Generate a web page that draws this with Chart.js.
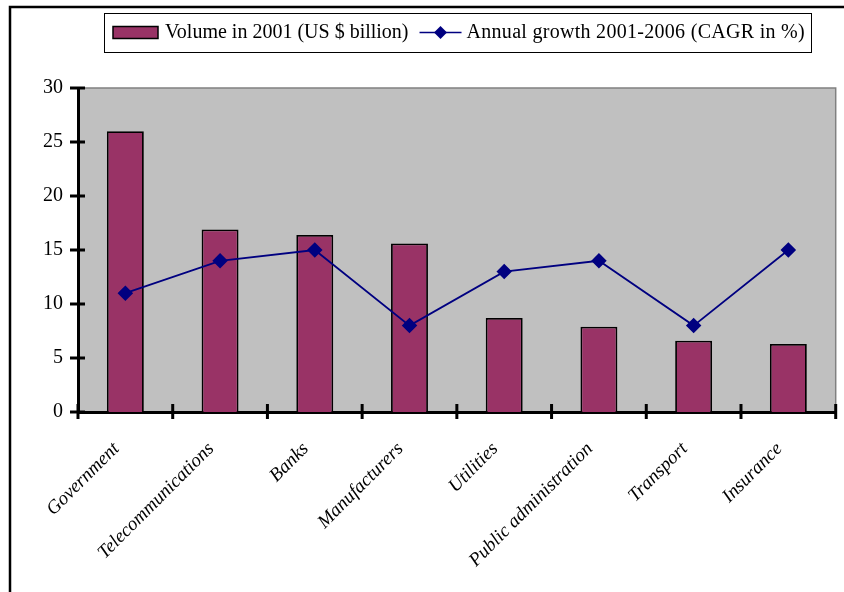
<!DOCTYPE html>
<html>
<head>
  <script src="https://cdn.jsdelivr.net/npm/chart.js"></script>
  <style>
    body { margin: 0; background: #fff; }
  </style>
</head>
<body>
  <canvas id="chartCanvas" width="844" height="592"></canvas>

  <script>
    // chart data
    var categories = ['Government', 'Telecommunications', 'Banks', 'Manufacturers',
      'Utilities', 'Public administration', 'Transport', 'Insurance'];
    var volume2001 = [26.0, 16.9, 16.4, 15.6, 8.7, 7.9, 6.6, 6.3];
    var growthCagr = [11, 14, 15, 8, 13, 14, 8, 15];
    var yTicks = [0, 5, 10, 15, 20, 25, 30];

    var serif = "'Liberation Serif', 'DejaVu Serif', serif";

    // gray plot background + thin gray border on top/right
    var plotBackground = {
      id: 'plotBackground',
      beforeDraw: function(chart) {
        var ctx = chart.ctx, a = chart.chartArea;
        ctx.save();
        ctx.fillStyle = '#c0c0c0';
        ctx.fillRect(a.left, a.top, a.right - a.left, a.bottom - a.top);
        ctx.strokeStyle = '#808080';
        ctx.lineWidth = 1.5;
        ctx.beginPath();
        ctx.moveTo(a.left, a.top);
        ctx.lineTo(a.right, a.top);
        ctx.lineTo(a.right, a.bottom);
        ctx.stroke();
        ctx.restore();
      }
    };

    // text drawn to a given width (the original font runs wider)
    function fitText(ctx, text, x, y, width) {
      var w = ctx.measureText(text).width;
      ctx.letterSpacing = ((width - w) / text.length).toFixed(2) + 'px';
      ctx.fillText(text, x, y);
      ctx.letterSpacing = '0px';
    }

    // tick marks crossing the axes, outer frame and legend box
    var decorations = {
      id: 'decorations',
      afterDraw: function(chart) {
        var ctx = chart.ctx, a = chart.chartArea;
        var xs = chart.scales.x, ys = chart.scales.y;
        ctx.save();
        ctx.strokeStyle = '#000';
        ctx.lineWidth = 3;
        ys.ticks.forEach(function(t, i) {
          var y = ys.getPixelForTick(i);
          ctx.beginPath();
          ctx.moveTo(a.left - 8, y);
          ctx.lineTo(a.left + 7, y);
          ctx.stroke();
        });
        var half = (xs.getPixelForValue(1) - xs.getPixelForValue(0)) / 2;
        for (var i = 0; i <= categories.length; i++) {
          var x = xs.getPixelForValue(i) - half;
          ctx.beginPath();
          ctx.moveTo(x, a.bottom - 8);
          ctx.lineTo(x, a.bottom + 7);
          ctx.stroke();
        }

        // outer frame
        ctx.lineWidth = 2.5;
        ctx.beginPath();
        ctx.moveTo(10, 592);
        ctx.lineTo(10, 7);
        ctx.lineTo(844, 7);
        ctx.stroke();

        // legend
        var bar = chart.data.datasets[0], line = chart.data.datasets[1];
        var cy = 32.5;
        ctx.lineWidth = 1;
        ctx.strokeStyle = '#000';
        ctx.strokeRect(104.5, 13.5, 707, 39);
        ctx.fillStyle = bar.backgroundColor;
        ctx.fillRect(113, cy - 6, 45, 12);
        ctx.lineWidth = 1.5;
        ctx.strokeRect(113, cy - 6, 45, 12);
        ctx.fillStyle = '#000';
        ctx.textBaseline = 'middle';
        ctx.font = '20px ' + serif;
        ctx.fillText(bar.label, 165, cy);
        var lx = 165 + ctx.measureText(bar.label).width + 11;
        ctx.strokeStyle = line.borderColor;
        ctx.lineWidth = 1.5;
        ctx.beginPath();
        ctx.moveTo(lx, cy);
        ctx.lineTo(lx + 42, cy);
        ctx.stroke();
        ctx.fillStyle = line.borderColor;
        ctx.beginPath();
        ctx.moveTo(lx + 21, cy - 6.5);
        ctx.lineTo(lx + 27.5, cy);
        ctx.lineTo(lx + 21, cy + 6.5);
        ctx.lineTo(lx + 14.5, cy);
        ctx.closePath();
        ctx.fill();
        ctx.fillStyle = '#000';
        fitText(ctx, line.label, lx + 47, cy, 805 - (lx + 47));
        ctx.restore();
      }
    };

    var ctx = document.getElementById('chartCanvas').getContext('2d');
    var chart = new Chart(ctx, {
      data: {
        labels: categories,
        datasets: [{
          type: 'bar',
          label: 'Volume in 2001 (US $ billion)',
          data: volume2001,
          backgroundColor: '#993366',
          borderColor: '#000',
          borderWidth: 1.8,
          barPercentage: 0.39,
          categoryPercentage: 1,
          order: 1
        }, {
          type: 'line',
          label: 'Annual growth 2001-2006 (CAGR in %)',
          data: growthCagr,
          borderColor: '#000080',
          backgroundColor: '#000080',
          borderWidth: 1.8,
          pointStyle: 'rectRot',
          pointRadius: 6.5,
          pointBackgroundColor: '#000080',
          pointBorderColor: '#000080',
          tension: 0,
          order: 0
        }]
      },
      options: {
        responsive: false,
        animation: false,
        layout: { padding: { left: 10, right: 6, top: 88, bottom: 0 } },
        plugins: {
          legend: { display: false },
          tooltip: { enabled: false }
        },
        scales: {
          x: {
            grid: { display: false, offset: true },
            border: { display: true, color: '#000', width: 3 },
            ticks: {
              color: '#000',
              font: { family: serif, size: 19, style: 'italic' },
              maxRotation: 45,
              minRotation: 45,
              padding: 18,
              labelOffset: -9,
              autoSkip: false
            },
            afterFit: function(scale) { scale.height = 180; }
          },
          y: {
            min: 0,
            max: 30,
            afterBuildTicks: function(scale) {
              scale.ticks = yTicks.map(function(v) { return { value: v }; });
            },
            grid: { display: false, drawTicks: false },
            border: { display: true, color: '#000', width: 3 },
            ticks: {
              color: '#000',
              font: { family: serif, size: 20 },
              padding: 15
            },
            afterFit: function(scale) { scale.width = 68; }
          }
        }
      },
      plugins: [plotBackground, decorations]
    });
  </script>
</body>
</html>
